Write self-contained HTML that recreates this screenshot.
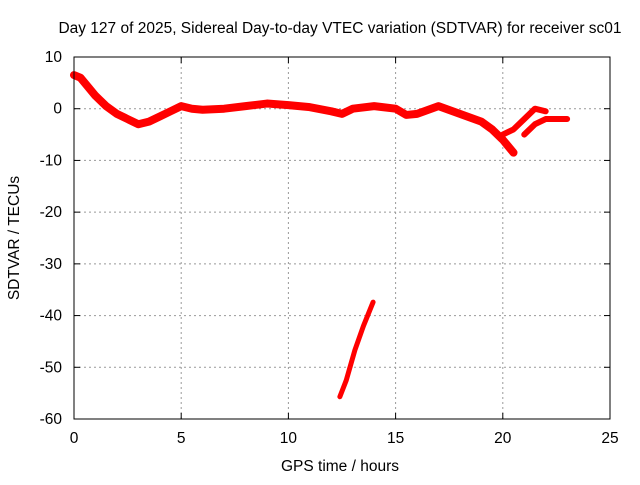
<!DOCTYPE html>
<html><head><meta charset="utf-8"><style>
body{margin:0;background:#fff;font-family:"Liberation Sans",sans-serif}
svg text{font-family:"Liberation Sans",sans-serif;font-size:15.5px;fill:#000}
</style></head><body>
<svg width="640" height="480">
<rect width="640" height="480" fill="#fff"/>
<text x="340" y="33" text-anchor="middle">Day 127 of 2025, Sidereal Day-to-day VTEC variation (SDTVAR) for receiver sc01</text>
<g id="grid"></g><g id="ticks"></g><g id="series"></g>
<rect x="74" y="57" width="536" height="362" fill="none" stroke="#000"/>
<text x="340" y="471" text-anchor="middle">GPS time / hours</text>
<text transform="translate(19,238) rotate(-90)" text-anchor="middle">SDTVAR / TECUs</text>
</svg>
<script>
const xTicks=[0,5,10,15,20,25];
const yTicks=[10,0,-10,-20,-30,-40,-50,-60];
const mainH=[0,0.3,0.6,1,1.5,2,2.5,3,3.5,4,4.5,5,5.5,6,7,8,9,10,11,12,12.5,13,14,15,15.5,16,17,18,19,19.5,20,20.5];
const mainV=[6.5,6,4.5,2.5,0.5,-1,-2,-3,-2.5,-1.5,-0.5,0.5,0,-0.2,0,0.5,1,0.7,0.3,-0.5,-1,0,0.5,0,-1.2,-1,0.5,-1,-2.5,-4,-6,-8.5];
const b2H=[20,20.5,21,21.5,22];
const b2V=[-5,-4,-2,0,-0.5];
const b3H=[21,21.5,22,22.5,23];
const b3V=[-5,-3,-2,-2,-2];
const arcH=[12.4,12.7,13.1,13.5,13.95];
const arcV=[-55.7,-52.5,-46.7,-42,-37.4];
const X=h=>74+h*536/25, Y=v=>57+(10-v)*362/70;
const NS='http://www.w3.org/2000/svg';
function mk(t,a,p){const e=document.createElementNS(NS,t);for(const k in a)e.setAttribute(k,a[k]);document.getElementById(p).appendChild(e);return e;}
xTicks.forEach(t=>{
 if(t>0&&t<25){const g=mk('line',{x1:X(t),x2:X(t),y1:57,y2:419,stroke:'#999','stroke-dasharray':'2,3'},'grid');
 
 }
 const l=mk('text',{x:X(t),y:443,'text-anchor':'middle'},'ticks');l.textContent=t;
 
 
 mk('line',{x1:X(t),x2:X(t),y1:419,y2:413,stroke:'#000'},'ticks');
 mk('line',{x1:X(t),x2:X(t),y1:57,y2:63,stroke:'#000'},'ticks');
});
yTicks.forEach(t=>{
 if(t<10&&t>-60){const g=mk('line',{x1:74,x2:610,y1:Y(t),y2:Y(t),stroke:'#999','stroke-dasharray':'2,3'},'grid');
 
 }
 const l=mk('text',{x:62,y:Y(t)+5,'text-anchor':'end'},'ticks');l.textContent=t;
 
 
 mk('line',{x1:74,x2:80,y1:Y(t),y2:Y(t),stroke:'#000'},'ticks');
 mk('line',{x1:604,x2:610,y1:Y(t),y2:Y(t),stroke:'#000'},'ticks');
});
function series(H,V,name,w){
 const p=mk('polyline',{points:H.map((h,i)=>X(h)+','+Y(V[i])).join(' '),fill:'none',stroke:'#f00','stroke-width':w,'stroke-linejoin':'round','stroke-linecap':'round'},'series');
 
 
}
series(mainH,mainV,'main-series',8);
series(b2H,b2V,'branch-series-2',6);
series(b3H,b3V,'branch-series-3',6);
series(arcH,arcV,'arc-series',5);
</script>
</body></html>
